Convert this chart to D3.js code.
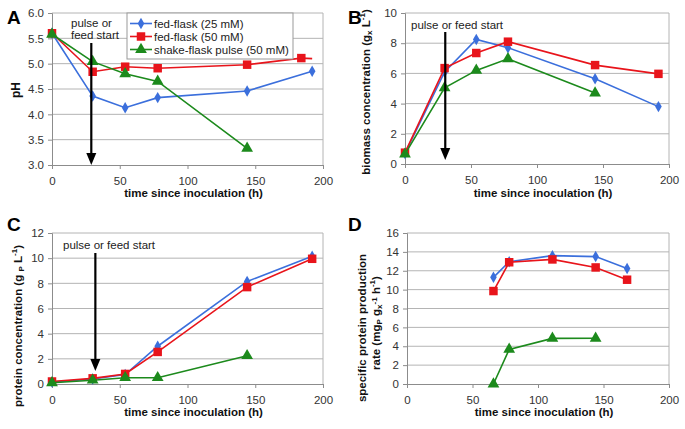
<!DOCTYPE html>
<html><head><meta charset="utf-8">
<script src="https://cdn.jsdelivr.net/npm/d3@7"></script>
<style>
body{margin:0;background:#fff;}
svg text{font-family:"Liberation Sans",Arial,sans-serif;}
</style>
</head><body>
<svg id="chart" width="685" height="429"></svg>
<script>
// ---------- data ----------
const seriesNames = ["fed-flask (25 mM)", "fed-flask (50 mM)", "shake-flask pulse (50 mM)"];
const hoursFed = [0, 30, 54, 78, 144, 192];
const hoursFed50pH = [0, 30, 54, 78, 144, 184, 192];
const hoursShake = [0, 30, 54, 78, 144];
const phFed25 = [5.6, 4.36, 4.13, 4.33, 4.46, 4.85];
const phFed50 = [5.6, 4.84, 4.94, 4.91, 4.98, 5.11, 5.1];
const phShake = [5.58, 5.04, 4.8, 4.65, 3.33];
const biomassFed25 = [0.7, 6.1, 8.25, 7.7, 5.65, 3.8];
const biomassFed50 = [0.75, 6.35, 7.35, 8.1, 6.55, 5.97];
const biomassShake = [0.65, 5.05, 6.2, 6.97, 4.7];
const proteinFed25 = [0.15, 0.4, 0.75, 3.0, 8.15, 10.15];
const proteinFed50 = [0.2, 0.45, 0.8, 2.55, 7.7, 9.95];
const proteinShake = [0.1, 0.3, 0.5, 0.5, 2.25];
const hoursRate = [66, 78, 111, 144, 168];
const hoursRateShake = [66, 78, 111, 144];
const rateFed25 = [11.3, 12.95, 13.6, 13.5, 12.25];
const rateFed50 = [9.85, 12.9, 13.2, 12.35, 11.05];
const rateShake = [0, 3.67, 4.83, 4.85];
const xTicks = [0, 50, 100, 150, 200];
const phTicks = [3.0, 3.5, 4.0, 4.5, 5.0, 5.5, 6.0];
const biomassTicks = [0, 2, 4, 6, 8, 10];
const proteinTicks = [0, 2, 4, 6, 8, 10, 12];
const rateTicks = [0, 2, 4, 6, 8, 10, 12, 14, 16];
const feedStartHours = [29, 30.5, 32];

// ---------- styles ----------
const colors = ["#3b6fdc", "#e8141b", "#1c8a1c"];
const svg = d3.select("#chart");

const panels = [
  {letter: "A", box: [52, 13, 323, 165], yDom: [3, 6], yTicks: phTicks, fmt: d3.format(".1f"),
   series: [[hoursFed, phFed25, 0], [hoursFed50pH, phFed50, 1], [hoursShake, phShake, 2]],
   arrow: feedStartHours[0], arrowY: [43, 165], note: ["pulse or", "feed start"], noteXY: [71, 27],
   letterXY: [7, 24], xLabelY: 185, xTitleY: 197},
  {letter: "B", box: [405, 13, 669, 164], yDom: [0, 10], yTicks: biomassTicks, fmt: d3.format("d"),
   series: [[hoursFed, biomassFed25, 0], [hoursFed, biomassFed50, 1], [hoursShake, biomassShake, 2]],
   arrow: feedStartHours[1], arrowY: [32, 160], note: ["pulse or feed start"], noteXY: [411, 29],
   letterXY: [348, 24], xLabelY: 185, xTitleY: 197},
  {letter: "C", box: [52, 233, 323, 384], yDom: [0, 12], yTicks: proteinTicks, fmt: d3.format("d"),
   series: [[hoursFed, proteinFed25, 0], [hoursFed, proteinFed50, 1], [hoursShake, proteinShake, 2]],
   arrow: feedStartHours[2], arrowY: [253, 371], note: ["pulse or feed start"], noteXY: [63, 249],
   letterXY: [7, 231], xLabelY: 405, xTitleY: 416},
  {letter: "D", box: [407, 233, 669, 384], yDom: [0, 16], yTicks: rateTicks, fmt: d3.format("d"),
   series: [[hoursRate, rateFed25, 0], [hoursRate, rateFed50, 1], [hoursRateShake, rateShake, 2]],
   arrow: null, letterXY: [348, 231], xLabelY: 405, xTitleY: 416}
];

const sym = [d3.symbol().type(d3.symbolDiamond).size(38),
             d3.symbol().type(d3.symbolSquare).size(72),
             d3.symbol().type(d3.symbolTriangle).size(60)];

panels.forEach((p, pi) => {
  const [x0, y0, x1, y1] = p.box;
  const x = d3.scaleLinear().domain([0, 200]).range([x0, x1]);
  const y = d3.scaleLinear().domain(p.yDom).range([y1, y0]);
  const g = svg.append("g");

  // gridlines
  g.append("g").selectAll("line").data(p.yTicks.slice(1)).join("line")
    .attr("x1", x0).attr("x2", x1).attr("y1", d => y(d)).attr("y2", d => y(d))
    .attr("stroke", "#b4b4b4").attr("stroke-width", 1);
  // right border
  g.append("line").attr("x1", x1).attr("x2", x1).attr("y1", y0).attr("y2", y1)
    .attr("stroke", "#b4b4b4");

  // y axis
  const ya = g.append("g").attr("transform", `translate(${x0},0)`)
    .call(d3.axisLeft(y).tickValues(p.yTicks).tickFormat(p.fmt).tickSize(4).tickPadding(4));
  // x axis
  const xa = g.append("g").attr("transform", `translate(0,${y1})`)
    .call(d3.axisBottom(x).tickValues(xTicks).tickSize(4).tickPadding(8));
  [ya, xa].forEach(a => {
    a.select(".domain").attr("stroke", "#8c8c8c");
    a.selectAll(".tick line").attr("stroke", "#8c8c8c");
    a.selectAll("text").attr("fill", "#333").attr("font-size", 11.5)
      .attr("font-family", "Liberation Sans, Arial, sans-serif");
  });

  // x title
  g.append("text").attr("x", (x0 + x1) / 2 + 6).attr("y", p.xTitleY).attr("text-anchor", "middle")
    .attr("font-size", 11.5).attr("font-weight", "bold").attr("fill", "#111")
    .text("time since inoculation (h)");

  // panel letter
  g.append("text").attr("x", p.letterXY[0]).attr("y", p.letterXY[1])
    .attr("font-size", 19).attr("font-weight", "bold").attr("fill", "#000").text(p.letter);

  // series
  p.series.forEach(([xs, ys, ci]) => {
    const pts = xs.map((t, i) => [t, ys[i]]);
    g.append("path").datum(pts)
      .attr("d", d3.line().x(d => x(d[0])).y(d => y(d[1])))
      .attr("fill", "none").attr("stroke", colors[ci]).attr("stroke-width", 1.6);
    const markPts = (pi === 0 && ci === 1) ? pts.slice(0, -1) : pts;
    g.append("g").selectAll("path").data(markPts).join("path")
      .attr("transform", d => `translate(${x(d[0])},${y(d[1])})`)
      .attr("d", sym[ci]()).attr("fill", colors[ci]);
  });

  // arrow + note
  if (p.arrow !== null) {
    const ax = x(p.arrow);
    g.append("line").attr("x1", ax).attr("x2", ax).attr("y1", p.arrowY[0]).attr("y2", p.arrowY[1] - 10)
      .attr("stroke", "#000").attr("stroke-width", 2.2);
    g.append("path")
      .attr("d", `M${ax - 5},${p.arrowY[1] - 12}L${ax + 5},${p.arrowY[1] - 12}L${ax},${p.arrowY[1]}Z`)
      .attr("fill", "#000");
    p.note.forEach((t, i) => {
      g.append("text").attr("x", p.noteXY[0]).attr("y", p.noteXY[1] + i * 12)
        .attr("font-size", 11.5).attr("fill", "#222").text(t);
    });
  }
});

// y titles
function yTitle(cx, cy, parts, size) {
  const t = svg.append("text").attr("transform", `translate(${cx},${cy}) rotate(-90)`)
    .attr("text-anchor", "middle").attr("font-size", size).attr("font-weight", "bold").attr("fill", "#111");
  parts.forEach(pt => {
    const s = t.append("tspan").text(pt[0]);
    if (pt[1] === "sub") s.attr("font-size", size * 0.7).attr("dy", 2);
    if (pt[1] === "sup") s.attr("font-size", size * 0.7).attr("dy", -5);
    if (pt[1] === "back") s.attr("dy", pt[2]);
  });
  return t;
}
yTitle(20, 90, [["pH"]], 12);
yTitle(370, 92, [["biomass concentration (g"], ["x", "sub"], [" L", "back", -2], ["-1", "sup"], [")", "back", 5]], 11.5);
yTitle(22, 326, [["protein concentration (g "], ["P", "sub"], [" L", "back", -2], ["-1", "sup"], [")", "back", 5]], 11.5);
yTitle(366, 328, [["specific protein production"]], 11.5);
yTitle(380, 323, [["rate (mg"], ["P", "sub"], [" g", "back", -2], ["x", "sub"], ["-1", "sup", 0], [" h", "back", 3], ["-1", "sup"], [")", "back", 5]], 11.5);

// legend in panel A
const lg = svg.append("g");
lg.append("rect").attr("x", 127).attr("y", 13).attr("width", 166).attr("height", 46)
  .attr("fill", "#fff").attr("stroke", "#999");
seriesNames.forEach((n, i) => {
  const ly = 23.5 + i * 13;
  lg.append("line").attr("x1", 130).attr("x2", 152).attr("y1", ly).attr("y2", ly)
    .attr("stroke", colors[i]).attr("stroke-width", 1.6);
  lg.append("path").attr("transform", `translate(141,${ly})`).attr("d", sym[i]()).attr("fill", colors[i]);
  lg.append("text").attr("x", 154).attr("y", ly + 4).attr("font-size", 11.5).attr("fill", "#222").text(n);
});
</script>
</body></html>
